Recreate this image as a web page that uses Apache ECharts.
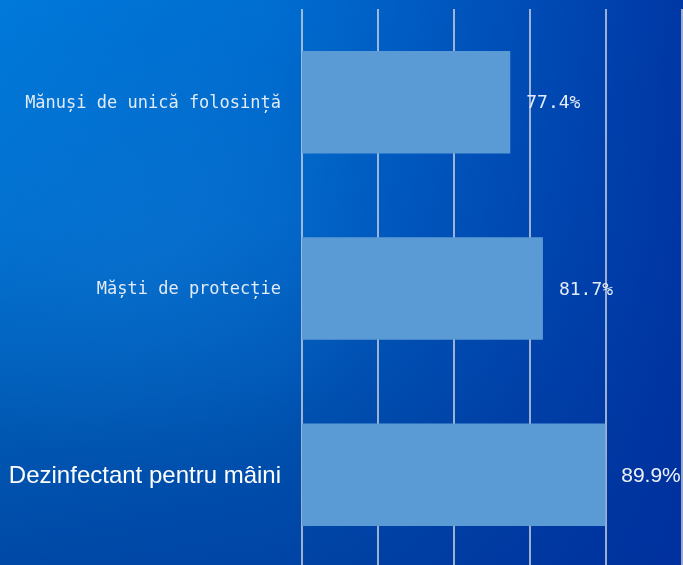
<!DOCTYPE html>
<html lang="ro">
<head>
    <meta charset="utf-8">
    <title>Produse de protecție</title>
    <script src="https://cdn.jsdelivr.net/npm/echarts@6/dist/echarts.min.js"></script>
    <style>
        html, body { margin: 0; padding: 0; overflow: hidden; }
        #main {
            width: 683px; height: 570px;
            background:
                radial-gradient(ellipse 260px 220px at 140px 250px, rgba(20,125,215,0.35), rgba(20,125,215,0) 100%),
                linear-gradient(to right, rgba(0,44,156,0) 0%, rgba(0,44,156,0.15) 40%, rgba(0,44,156,0.85) 100%),
                linear-gradient(to bottom, #0079da 0%, #006fcf 40%, #0058b2 75%, #0048a6 100%);
        }
    </style>
</head>
<body>
<div id="main"></div>
<script type="text/javascript">
    // top to bottom
    var categories = ['Mănuși de unică folosință', 'Măști de protecție', 'Dezinfectant pentru mâini'];
    var values = [77.4, 81.7, 89.9];
    var xTicks = [50, 60, 70, 80, 90, 100];

    var myChart = echarts.init(document.getElementById('main'));

    var monoFont = '"DejaVu Sans Mono", monospace';
    var sansFont = '"Liberation Sans", Arial, sans-serif';

    var option = {
        backgroundColor: 'transparent',
        animation: false,
        grid: { left: 302, right: 1, top: 9, bottom: 2, containLabel: false },
        xAxis: {
            type: 'value',
            min: xTicks[0],
            max: xTicks[xTicks.length - 1],
            interval: 10,
            axisLine: { show: false },
            axisTick: { show: false },
            axisLabel: { show: false },
            splitLine: { lineStyle: { color: '#d2d6de', width: 1.5 } }
        },
        yAxis: {
            type: 'category',
            inverse: true,
            data: categories,
            axisLine: { show: false },
            axisTick: { show: false },
            axisLabel: {
                margin: 21,
                formatter: function (v, i) {
                    return i === 2 ? '{b|' + v + '}' : '{a|' + v + '}';
                },
                rich: {
                    a: { color: '#e2ebf7', fontFamily: monoFont, fontSize: 17, padding: [3, 0, 0, 0] },
                    b: { color: '#ffffff', fontFamily: sansFont, fontSize: 24, padding: [3, 0, 0, 0] }
                }
            }
        },
        series: [{
            type: 'bar',
            data: values,
            barCategoryGap: '45%',
            itemStyle: { color: '#5b9bd5' },
            label: {
                show: true,
                position: 'right',
                distance: 16,
                formatter: function (p) {
                    var t = p.value.toFixed(1) + '%';
                    return p.dataIndex === 2 ? '{b|' + t + '}' : '{a|' + t + '}';
                },
                rich: {
                    a: { color: '#e2ebf7', fontFamily: monoFont, fontSize: 18, padding: [3, 0, 0, 0] },
                    b: { color: '#eef2f8', fontFamily: sansFont, fontSize: 21, padding: [2, 0, 0, 0] }
                }
            }
        }]
    };

    option && myChart.setOption(option);
</script>
</body>
</html>
